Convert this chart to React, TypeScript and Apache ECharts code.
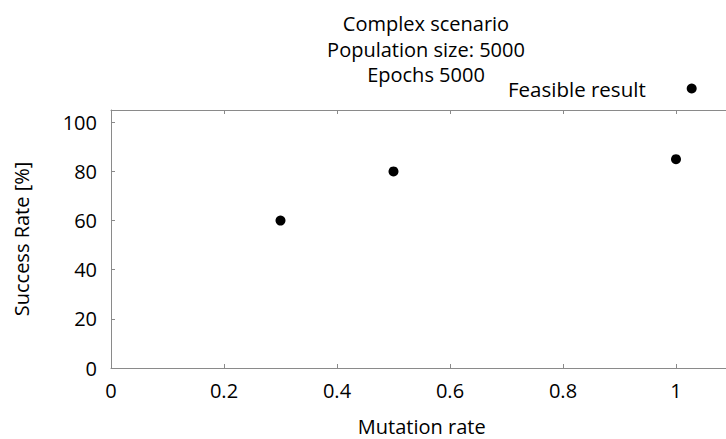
import React, { useEffect, useRef } from "react";
import * as echarts from "echarts";

const titleLines = ["Complex scenario", "Population size: 5000", "Epochs 5000"];
const seriesName = "Feasible result";
const mutationRate = [0.3, 0.5, 1.0];
const successRate = [60, 80, 85];
const xLabel = "Mutation rate";
const yLabel = "Success Rate [%]";

const FONT = "Open Sans";
const FS = 20;
const AXIS_COLOR = "#8a8a8a";

export default function App() {
  const ref = useRef<HTMLDivElement>(null);
  useEffect(() => {
    if (!ref.current) return;
    const chart = echarts.init(ref.current, null, { renderer: "svg" });
    const isMajor = (v: number, step: number) =>
      Math.abs(v / step - Math.round(v / step)) < 1e-6;
    chart.setOption({
      animation: false,
      textStyle: { fontFamily: FONT },
      title: {
        text: titleLines.join("\n"),
        left: 421,
        top: 6,
        textAlign: "center",
        textStyle: {
          fontFamily: FONT,
          fontSize: FS,
          fontWeight: "normal",
          color: "#000",
          lineHeight: 25.5,
        },
      },
      legend: {
        data: [seriesName],
        left: 503,
        top: 73,
        align: "right",
        itemWidth: 10,
        itemHeight: 10,
        itemGap: 10,
        textStyle: { fontFamily: FONT, fontSize: 20.5, color: "#000", padding: [0, 36, 0, 0] },
      },
      grid: { left: 111, top: 110, bottom: 71, right: -6.5, outerBoundsMode: "none", containLabel: false },
      xAxis: [
        {
          type: "value",
          min: 0,
          max: 1.1,
          interval: 0.2,
          name: xLabel,
          nameLocation: "middle",
          nameGap: 48,
          nameTextStyle: { fontFamily: FONT, fontSize: FS, color: "#000" },
          axisLine: { show: true, lineStyle: { color: AXIS_COLOR } },
          axisTick: { show: true, inside: true, length: 4, lineStyle: { color: AXIS_COLOR } },
          splitLine: { show: false },
          axisLabel: {
            fontFamily: FONT,
            fontSize: FS,
            color: "#000",
            margin: 12,
            formatter: (v: number) => (isMajor(v, 0.2) ? String(Number(v.toFixed(1))) : ""),
          },
        },
        {
          type: "value",
          position: "top",
          min: 0,
          max: 1.1,
          interval: 0.2,
          axisLine: { show: true, lineStyle: { color: AXIS_COLOR } },
          axisTick: { show: true, inside: true, length: 4, lineStyle: { color: AXIS_COLOR } },
          splitLine: { show: false },
          axisLabel: { show: false },
        },
      ],
      yAxis: [
        {
          type: "value",
          min: 0,
          max: 105,
          interval: 20,
          name: yLabel,
          nameLocation: "middle",
          nameGap: 80,
          nameTextStyle: { fontFamily: FONT, fontSize: FS, color: "#000" },
          axisLine: { show: true, lineStyle: { color: AXIS_COLOR } },
          axisTick: { show: true, inside: true, length: 4, lineStyle: { color: AXIS_COLOR } },
          splitLine: { show: false },
          axisLabel: {
            fontFamily: FONT,
            fontSize: FS,
            color: "#000",
            margin: 14,
            formatter: (v: number) => (isMajor(v, 20) ? String(v) : ""),
          },
        },
      ],
      series: [
        {
          name: seriesName,
          type: "scatter",
          symbol: "circle",
          symbolSize: 10,
          itemStyle: { color: "#000", opacity: 1 },
          data: mutationRate.map((x, i) => [x, successRate[i]]),
        },
      ],
    });
    return () => chart.dispose();
  }, []);
  return <div ref={ref} style={{ width: 726, height: 439, position: "absolute", left: 0, top: 0 }} />;
}
